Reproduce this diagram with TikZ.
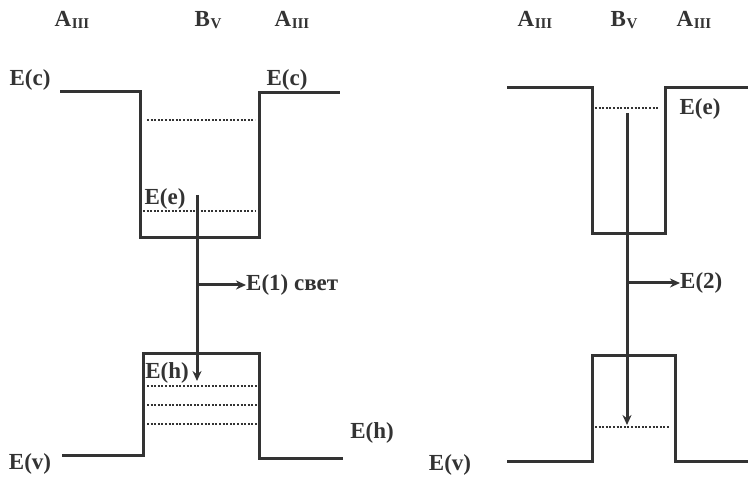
\documentclass[tikz,border=0pt]{standalone}
\usepackage{fontspec}
\setmainfont{Liberation Serif}
\usetikzlibrary{arrows.meta}
\definecolor{ink}{HTML}{333333}
\tikzset{
  band/.style={draw=ink, line width=3pt, line join=miter},
  level/.style={draw=ink, line width=2.2pt, dash pattern=on 2pt off 1.6pt},
  trans/.style={draw=ink, line width=3pt, -{Stealth[length=10pt,width=9pt]}},
  lab/.style={text=ink, font=\bfseries\fontsize{23}{25}\selectfont, inner sep=0pt},
}
\newcommand{\Asub}{A\kern0.5pt\raisebox{-0.25ex}{\fontsize{15}{15}\selectfont III}}
\newcommand{\Bsub}{B\kern0.5pt\raisebox{-0.25ex}{\fontsize{15}{15}\selectfont V}}
\begin{document}
\begin{tikzpicture}[x=1pt,y=-1pt]
\useasboundingbox (0,0) rectangle (748,478);
% ---------- left diagram ----------
\node[lab] (a1) at (72,20) {\Asub};
\node[lab] (b1) at (208,20) {\Bsub};
\node[lab] (a2) at (292,20) {\Asub};
\node[lab] (ec1) at (30,80) {E(c)};
\node[lab] (ec2) at (287,80) {E(c)};
\draw[band] (60,92) -- (140,92) -- (140,238) -- (259,238) -- (259,93) -- (340,93);
\draw[level] (147,120) -- (255,120);
\draw[level] (143,211) -- (255,211);
\node[lab] (ee1) at (165,199) {E(e)};
\draw[band] (62,456) -- (143,456) -- (143,354) -- (259,354) -- (259,459) -- (343,459);
\draw[level] (147,386) -- (257,386);
\draw[level] (147,405) -- (257,405);
\draw[level] (147,424) -- (257,424);
\node[lab] (eh1) at (167,373) {E(h)};
\node[lab] (eh2) at (372,433) {E(h)};
\node[lab] (ev1) at (30,464) {E(v)};
\coordinate (t1s) at (197,195);
\coordinate (t1e) at (197,381);
\draw[trans] (t1s) -- (t1e);
\coordinate (l1s) at (197,285);
\node[lab, anchor=west] (l1) at (246,285) {E(1) свет};
\draw[trans] (l1s) -- (l1.west);
% ---------- right diagram ----------
\node[lab] (a3) at (535,20) {\Asub};
\node[lab] (b2) at (624,20) {\Bsub};
\node[lab] (a4) at (694,20) {\Asub};
\draw[band] (507,88) -- (592,88) -- (592,234) -- (665,234) -- (665,88) -- (748,88);
\draw[level] (595,108) -- (658,108);
\node[lab] (ee2) at (700,109) {E(e)};
\draw[band] (507,462) -- (592,462) -- (592,356) -- (675,356) -- (675,462) -- (748,462);
\draw[level] (595,427) -- (670,427);
\node[lab] (ev2) at (450,465) {E(v)};
\coordinate (t2s) at (627,113);
\coordinate (t2e) at (627,425);
\draw[trans] (t2s) -- (t2e);
\coordinate (l2s) at (627,283);
\node[lab, anchor=west] (l2) at (680,283) {E(2)};
\draw[trans] (l2s) -- (l2.west);
\end{tikzpicture}
\end{document}
